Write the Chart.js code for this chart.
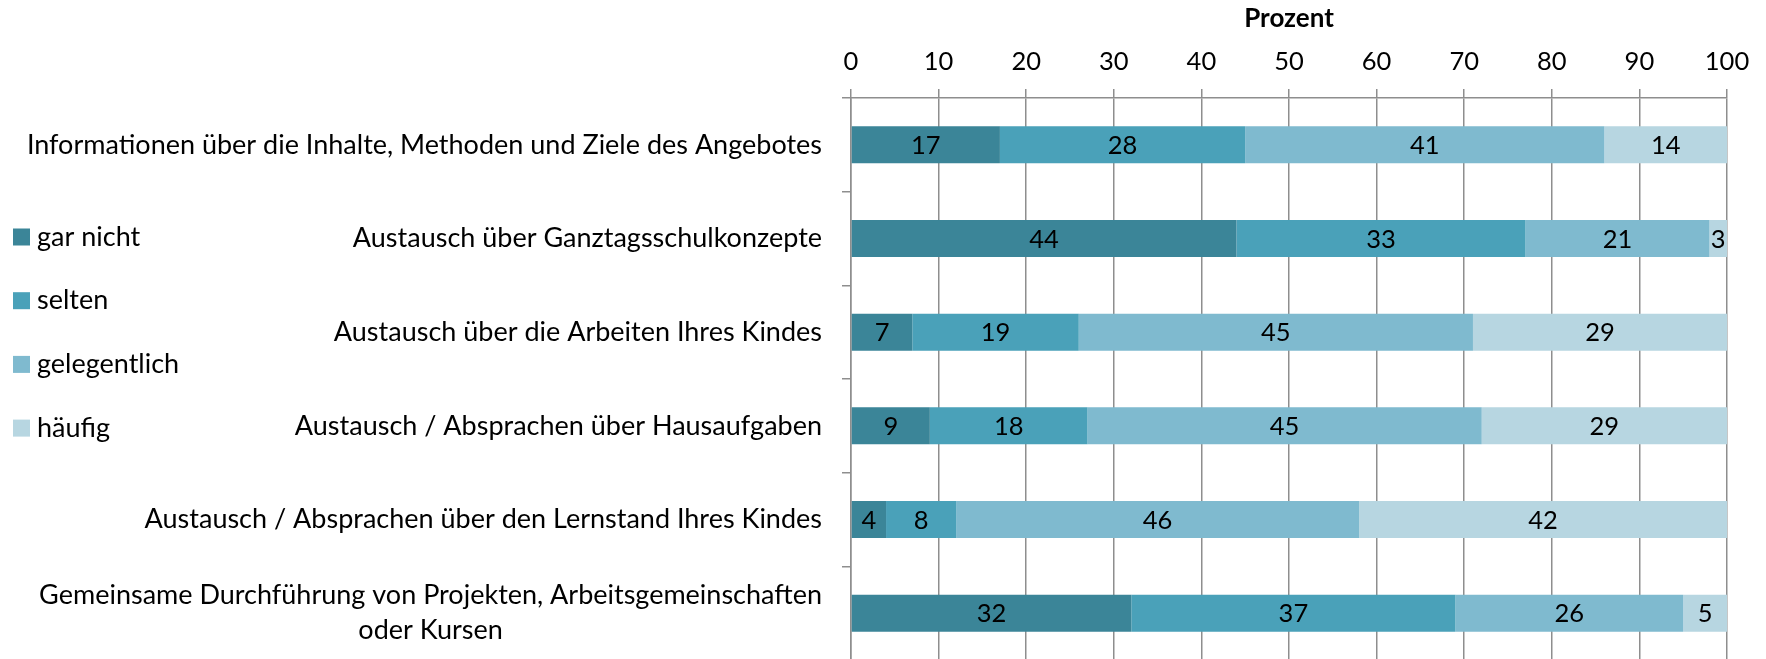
<!DOCTYPE html>
<html>
<head>
<meta charset="utf-8">
<title>Kontakt Eltern – Ganztagsschule</title>
<script src="https://cdn.jsdelivr.net/npm/chart.js@4.4.1/dist/chart.umd.min.js"></script>
<style>
  html, body { margin: 0; padding: 0; background: #fff; overflow: hidden; }
  #wrap { width: 1766px; height: 665px; position: relative; }
</style>
</head>
<body>
<div id="wrap"><canvas id="contactChart"></canvas></div>
<script>
const categories = [
  'Informationen über die Inhalte, Methoden und Ziele des Angebotes',
  'Austausch über Ganztagsschulkonzepte',
  'Austausch über die Arbeiten Ihres Kindes',
  'Austausch / Absprachen über Hausaufgaben',
  'Austausch / Absprachen über den Lernstand Ihres Kindes',
  ['Gemeinsame Durchführung von Projekten, Arbeitsgemeinschaften', 'oder Kursen']
];

const garNicht = [17, 44, 7, 9, 4, 32];
const selten = [28, 33, 19, 18, 8, 37];
const gelegentlich = [41, 21, 45, 45, 46, 26];
const haeufig = [14, 3, 29, 29, 42, 5];

const seriesNames = ['gar nicht', 'selten', 'gelegentlich', 'häufig'];
const seriesColors = ['#3b8598', '#4aa1b9', '#7fbacf', '#b7d6e1'];

const percentTicks = [0, 10, 20, 30, 40, 50, 60, 70, 80, 90, 100];

const FONT = 'Lato';
const gridColor = '#8e8e8e';

// category names left of the axis; wrapped names are centred within their block
const categoryLabels = {
  id: 'categoryLabels',
  afterDraw(chart) {
    const { ctx } = chart;
    const yScale = chart.scales.y;
    const right = yScale.right - 29;
    ctx.save();
    ctx.font = '27px ' + FONT;
    ctx.fillStyle = '#000';
    ctx.textBaseline = 'middle';
    ctx.textAlign = 'center';
    yScale.getLabels().forEach((label, i) => {
      const lines = Array.isArray(label) ? label : [label];
      const w = Math.max(...lines.map(l => ctx.measureText(l).width));
      const cy = yScale.getPixelForValue(i);
      lines.forEach((line, j) => {
        ctx.fillText(line, right - w / 2, cy + (j - (lines.length - 1) / 2) * 35);
      });
    });
    ctx.restore();
  }
};

// value in the middle of every segment
const segmentValues = {
  id: 'segmentValues',
  afterDatasetsDraw(chart) {
    const { ctx } = chart;
    ctx.save();
    ctx.font = '25.5px ' + FONT;
    ctx.fillStyle = '#000';
    ctx.textBaseline = 'middle';
    ctx.textAlign = 'center';
    chart.data.datasets.forEach((ds, di) => {
      chart.getDatasetMeta(di).data.forEach((bar, i) => {
        const { x, y, base } = bar.getProps(['x', 'y', 'base'], true);
        const right = Math.min(x, chart.chartArea.right);
        ctx.fillText(String(ds.data[i]), (right + base) / 2, y + 1);
      });
    });
    ctx.restore();
  }
};

// legend column on the far left
const sideLegend = {
  id: 'sideLegend',
  afterDraw(chart) {
    const { ctx } = chart;
    ctx.save();
    ctx.font = '27px ' + FONT;
    ctx.textBaseline = 'middle';
    ctx.textAlign = 'left';
    chart.data.datasets.forEach((ds, i) => {
      const cy = 237 + i * 63.7;
      ctx.fillStyle = ds.backgroundColor;
      ctx.fillRect(13, cy - 8.5, 17, 17);
      ctx.fillStyle = '#000';
      ctx.fillText(ds.label, 37, cy);
    });
    ctx.restore();
  }
};

const seriesValues = [garNicht, selten, gelegentlich, haeufig];

new Chart(document.getElementById('contactChart'), {
  type: 'bar',
  data: {
    labels: categories,
    datasets: seriesNames.map((name, i) => ({
      label: name,
      data: seriesValues[i],
      backgroundColor: seriesColors[i],
      borderWidth: 0,
      categoryPercentage: 1,
      barPercentage: 0.395
    }))
  },
  options: {
    indexAxis: 'y',
    responsive: true,
    maintainAspectRatio: false,
    animation: false,
    layout: { padding: { top: 0, right: 39, bottom: 5, left: 0 } },
    plugins: {
      legend: { display: false },
      tooltip: { enabled: false }
    },
    scales: {
      x: {
        position: 'top',
        stacked: true,
        min: 0,
        max: 100,
        afterBuildTicks: scale => { scale.ticks = percentTicks.map(v => ({ value: v })); },
        afterFit: scale => { scale.height = 98; },
        grid: { color: gridColor, lineWidth: 1.5, tickLength: 9 },
        border: { display: true, color: gridColor, width: 1.5 },
        ticks: { color: '#000', padding: 12, font: { family: FONT, size: 25.5 } },
        title: {
          display: true,
          text: 'Prozent',
          color: '#000',
          padding: { top: 3, bottom: 0 },
          font: { family: FONT, size: 26, weight: 'bold' }
        }
      },
      y: {
        stacked: true,
        afterFit: scale => { scale.width = 851; },
        grid: { offset: true, drawOnChartArea: false, color: gridColor, lineWidth: 1.5, tickLength: 9 },
        border: { display: true, color: gridColor, width: 1.5 },
        ticks: { display: false }
      }
    }
  },
  plugins: [categoryLabels, segmentValues, sideLegend]
});
</script>
</body>
</html>
